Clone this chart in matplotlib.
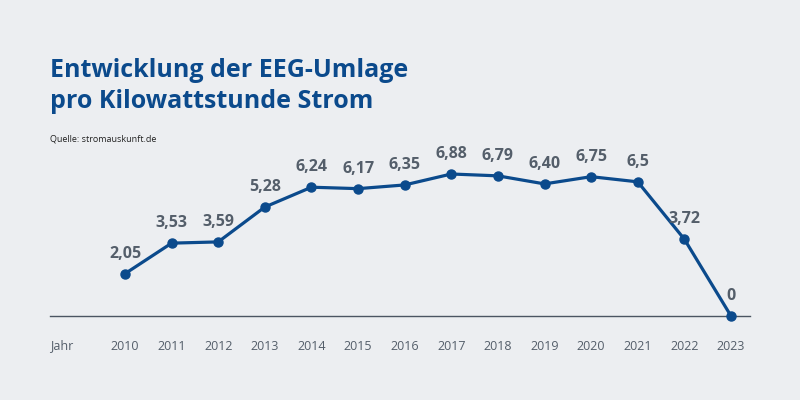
import matplotlib
matplotlib.use("Agg")
import matplotlib.pyplot as plt

# Daten: EEG-Umlage in ct/kWh
years = [2010, 2011, 2012, 2013, 2014, 2015, 2016, 2017, 2018, 2019, 2020, 2021, 2022, 2023]
umlage = [2.05, 3.53, 3.59, 5.28, 6.24, 6.17, 6.35, 6.88, 6.79, 6.40, 6.75, 6.5, 3.72, 0]
value_labels = ['2,05', '3,53', '3,59', '5,28', '6,24', '6,17', '6,35', '6,88',
                '6,79', '6,40', '6,75', '6,5', '3,72', '0']

bg = '#eceef1'
blue = '#0b4a8c'
grey = '#545e6a'

plt.rcParams['font.family'] = ['Open Sans', 'DejaVu Sans']

fig = plt.figure(figsize=(8, 4), dpi=100, facecolor=bg)
ax = fig.add_axes([50 / 800, 84 / 400, 700 / 800, 166 / 400])
ax.set_facecolor(bg)

idx = list(range(len(years)))
ax.plot(idx, umlage, color=blue, lw=2.3, marker='o', markersize=6.5,
        clip_on=False, zorder=3)
for i, (v, lab) in enumerate(zip(umlage, value_labels)):
    ax.annotate(lab, (i, v), xytext=(0, 14.5), textcoords='offset points',
                ha='center', va='center', fontsize=11.5, fontweight='bold',
                color=grey)

ax.axhline(0, color='#4b5562', lw=1, zorder=1, clip_on=False)

px = (731 - 125) / 13
ax.set_xlim(-75 / px, 13 + 19 / px)
ax.set_ylim(0, 166 / 20.64)

ax.set_xticks(idx)
ax.set_xticklabels([str(y) for y in years], fontsize=9, color=grey)
ax.tick_params(axis='x', length=0, pad=17)
ax.set_yticks([])
for s in ax.spines.values():
    s.set_visible(False)

fig.text(50 / 800, 1 - 346 / 400, 'Jahr', fontsize=9, color=grey,
         ha='left', va='center')

fig.text(50 / 800, 1 - 86 / 400, 'Entwicklung der EEG-Umlage\npro Kilowattstunde Strom',
         fontsize=18, fontweight='bold', color=blue, ha='left', va='center',
         linespacing=1.27)
fig.text(50 / 800, 1 - 139 / 400, 'Quelle: stromauskunft.de', fontsize=6.5,
         color='#222222', ha='left', va='center')

fig.savefig('out.png', dpi=100, facecolor=bg)
